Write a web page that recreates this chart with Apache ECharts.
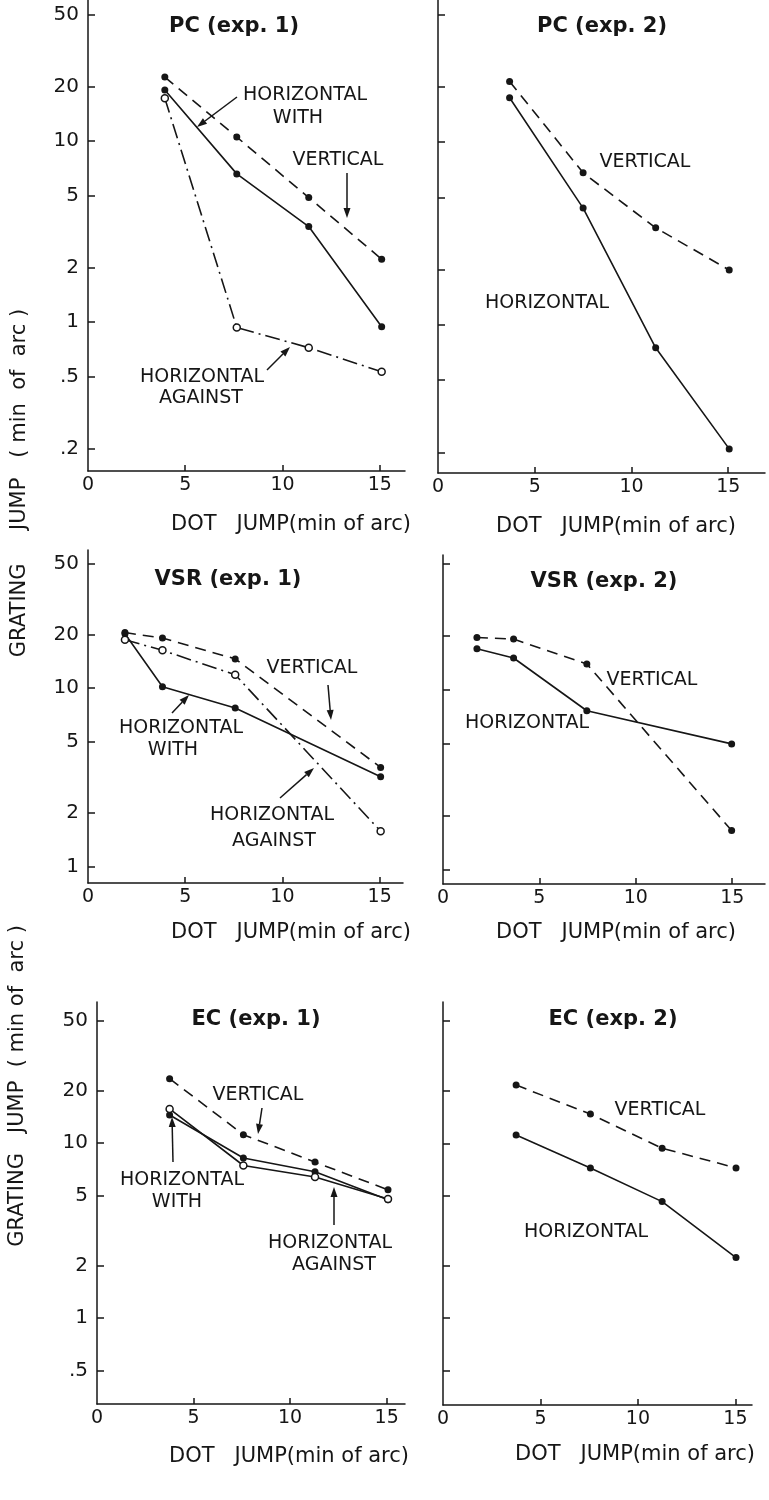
<!DOCTYPE html>
<html>
<head>
<meta charset="utf-8">
<title>Grating jump vs dot jump</title>
<script src="https://cdn.jsdelivr.net/npm/echarts@6/dist/echarts.min.js"></script>
<style>
  html, body { margin: 0; padding: 0; background: #fff; }
  #chart { width: 769px; height: 1500px; }
</style>
</head>
<body>
<div id="chart"></div>
<script>
// values: x = dot jump, y = grating jump (min of arc)
const pc1X = [3.95, 7.65, 11.35, 15.1];
const pc1Vertical = [22.5, 10.5, 4.86, 2.22];
const pc1HorWith = [19.1, 6.57, 3.36, 0.94];
const pc1HorAgainst = [17.2, 0.93, 0.72, 0.53];

const pc2X = [3.7, 7.5, 11.25, 15.05];
const pc2Vertical = [21.5, 6.8, 3.4, 2.0];
const pc2Horizontal = [17.5, 4.36, 0.75, 0.21];

const vsr1X = [1.9, 3.83, 7.57, 15.05];
const vsr1Vertical = [20.5, 19.1, 14.6, 3.6];
const vsr1HorWith = [20.2, 10.2, 7.74, 3.19];
const vsr1HorAgainst = [18.7, 16.3, 11.9, 1.58];

const vsr2X = [1.76, 3.66, 7.46, 14.97];
const vsr2Vertical = [19.5, 19.1, 13.9, 1.65];
const vsr2Horizontal = [16.9, 15.0, 7.64, 5.0];

const ec1X = [3.76, 7.58, 11.29, 15.07];
const ec1Vertical = [23.4, 11.2, 7.8, 5.42];
const ec1HorWith = [14.5, 8.24, 6.87, 4.76];
const ec1HorAgainst = [15.7, 7.46, 6.41, 4.8];

const ec2X = [3.75, 7.56, 11.24, 15.03];
const ec2Vertical = [21.5, 14.7, 9.37, 7.23];
const ec2Horizontal = [11.15, 7.23, 4.64, 2.22];

const xTickLabels = [0, 5, 10, 15];
const yTicksPC = [0.2, 0.5, 1, 2, 5, 10, 20, 50];
const yTicksVSR = [1, 2, 5, 10, 20, 50];
const yTicksEC = [0.5, 1, 2, 5, 10, 20, 50];

const ink = '#161616';
const font = '"DejaVu Sans", "Liberation Sans", Arial, sans-serif';

// line looks
const looks = {
  vertical: { dash: [11, 7], open: false },
  solid: { dash: 'solid', open: false },
  against: { dash: [15, 5, 2, 5], open: true },
  againstSolid: { dash: 'solid', open: true },
};

const panels = [
  {
    title: 'PC (exp. 1)', titlePos: [234, 27], namePos: [291, 525],
    grid: { left: 88, top: 0, width: 317, height: 471 },
    xMax: 16.3, yMin: 0.15, yMax: 60, yTicks: yTicksPC, labels: true,
    lines: [[pc1X, pc1Vertical, 'vertical'], [pc1X, pc1HorWith, 'solid'], [pc1X, pc1HorAgainst, 'against']],
  },
  {
    title: 'PC (exp. 2)', titlePos: [602, 27], namePos: [616, 527],
    grid: { left: 438, top: 0, width: 327, height: 473 },
    xMax: 16.9, yMin: 0.155, yMax: 60, yTicks: yTicksPC, labels: false,
    lines: [[pc2X, pc2Vertical, 'vertical'], [pc2X, pc2Horizontal, 'solid']],
  },
  {
    title: 'VSR (exp. 1)', titlePos: [228, 580], namePos: [291, 933],
    grid: { left: 88, top: 550, width: 315, height: 333 },
    xMax: 16.2, yMin: 0.81, yMax: 59.5, yTicks: yTicksVSR, labels: true,
    lines: [[vsr1X, vsr1Vertical, 'vertical'], [vsr1X, vsr1HorWith, 'solid'], [vsr1X, vsr1HorAgainst, 'against']],
  },
  {
    title: 'VSR (exp. 2)', titlePos: [604, 582], namePos: [616, 933],
    grid: { left: 443, top: 555, width: 322, height: 329 },
    xMax: 16.7, yMin: 0.833, yMax: 56, yTicks: yTicksVSR, labels: false,
    lines: [[vsr2X, vsr2Vertical, 'vertical'], [vsr2X, vsr2Horizontal, 'solid']],
  },
  {
    title: 'EC (exp. 1)', titlePos: [256, 1020], namePos: [289, 1457],
    grid: { left: 97, top: 1002, width: 308, height: 402 },
    xMax: 15.95, yMin: 0.323, yMax: 64.2, yTicks: yTicksEC, labels: true,
    lines: [[ec1X, ec1Vertical, 'vertical'], [ec1X, ec1HorWith, 'solid'], [ec1X, ec1HorAgainst, 'againstSolid']],
  },
  {
    title: 'EC (exp. 2)', titlePos: [613, 1020], namePos: [635, 1455],
    grid: { left: 443, top: 1002, width: 309, height: 403 },
    xMax: 15.85, yMin: 0.319, yMax: 64.2, yTicks: yTicksEC, labels: false,
    lines: [[ec2X, ec2Vertical, 'vertical'], [ec2X, ec2Horizontal, 'solid']],
  },
];

// curve labels and their arrows (pixel positions)
const notes = [
  ['HORIZONTAL', 305, 95], ['WITH', 298, 118], ['VERTICAL', 338, 160],
  ['HORIZONTAL', 202, 377], ['AGAINST', 201, 398],
  ['VERTICAL', 645, 162], ['HORIZONTAL', 547, 303],
  ['VERTICAL', 312, 668], ['HORIZONTAL', 181, 728], ['WITH', 173, 750],
  ['HORIZONTAL', 272, 815], ['AGAINST', 274, 841],
  ['VERTICAL', 652, 680], ['HORIZONTAL', 527, 723],
  ['VERTICAL', 258, 1095], ['HORIZONTAL', 182, 1180], ['WITH', 177, 1202],
  ['HORIZONTAL', 330, 1243], ['AGAINST', 334, 1265],
  ['VERTICAL', 660, 1110], ['HORIZONTAL', 586, 1232],
];
const arrows = [
  [237, 97, 197, 127], [347, 173, 347, 218], [267, 370, 290, 347],
  [328, 685, 331, 720], [172, 713, 189, 695], [280, 798, 314, 768],
  [262, 1108, 258, 1134], [173, 1162, 172, 1117], [334, 1225, 334, 1187],
];

function fmtTick(v) {
  return v < 1 ? String(v).replace(/^0/, '') : String(v);
}

function arrow(x1, y1, x2, y2) {
  const a = Math.atan2(y2 - y1, x2 - x1);
  const len = 10, half = 3.5;
  const bx = x2 - len * Math.cos(a), by = y2 - len * Math.sin(a);
  const px = -Math.sin(a) * half, py = Math.cos(a) * half;
  return [
    { type: 'line', shape: { x1, y1, x2: bx, y2: by }, style: { stroke: ink, lineWidth: 1.5 } },
    { type: 'polygon', shape: { points: [[x2, y2], [bx + px, by + py], [bx - px, by - py]] }, style: { fill: ink } },
  ];
}

function text(str, x, y, size, weight, rotation) {
  return {
    type: 'text', x, y, rotation: rotation || 0,
    style: {
      text: str, fill: ink, font: `${weight || 'normal'} ${size}px ${font}`,
      textAlign: 'center', textVerticalAlign: 'middle',
    },
  };
}

const grids = [], xAxes = [], yAxes = [], series = [];
let graphic = [];

panels.forEach((p, i) => {
  grids.push(p.grid);
  xAxes.push({
    gridIndex: i, type: 'value', min: 0, max: p.xMax,
    axisLine: { onZero: false, lineStyle: { color: ink, width: 1.5 } },
    axisTick: { inside: true, length: 6, customValues: [5, 10, 15], lineStyle: { color: ink, width: 1.5 } },
    axisLabel: { customValues: xTickLabels, color: ink, fontSize: 19, fontFamily: font, margin: 5 },
    splitLine: { show: false },
  });
  yAxes.push({
    gridIndex: i, type: 'log', logBase: 10, min: p.yMin, max: p.yMax,
    axisLine: { show: true, lineStyle: { color: ink, width: 1.5 } },
    axisTick: { show: true, inside: true, length: 7, customValues: p.yTicks, lineStyle: { color: ink, width: 1.5 } },
    axisLabel: {
      show: p.labels, customValues: p.yTicks, formatter: fmtTick,
      color: ink, fontSize: 20, fontFamily: font, margin: 9,
    },
    splitLine: { show: false },
  });
  p.lines.forEach(([xs, ys, look]) => {
    const lk = looks[look];
    series.push({
      type: 'line', xAxisIndex: i, yAxisIndex: i,
      data: xs.map((x, j) => [x, ys[j]]),
      symbol: 'circle', symbolSize: 7,
      lineStyle: { color: ink, width: 1.6, type: lk.dash },
      itemStyle: lk.open
        ? { color: '#fff', borderColor: ink, borderWidth: 1.5 }
        : { color: ink, borderWidth: 0 },
      z: lk.open ? 4 : 3,
      silent: true,
    });
  });
  graphic.push(text(p.title, p.titlePos[0], p.titlePos[1], 21, 'bold'));
  graphic.push(text('DOT   JUMP(min of arc)', p.namePos[0], p.namePos[1], 21));
});

notes.forEach(([s, x, y]) => graphic.push(text(s, x, y, 19)));
arrows.forEach((a) => { graphic = graphic.concat(arrow(...a)); });

// the two shared y axis titles
graphic.push(text('GRATING     JUMP   ( min  of  arc )', 20, 483, 21, 'normal', Math.PI / 2));
graphic.push(text('GRATING   JUMP  ( min of  arc )', 18, 1086, 21, 'normal', Math.PI / 2));

const myChart = echarts.init(document.getElementById('chart'), null, { renderer: 'canvas' });
myChart.setOption({
  backgroundColor: '#fff',
  animation: false,
  grid: grids,
  xAxis: xAxes,
  yAxis: yAxes,
  series,
  graphic,
});
</script>
</body>
</html>
